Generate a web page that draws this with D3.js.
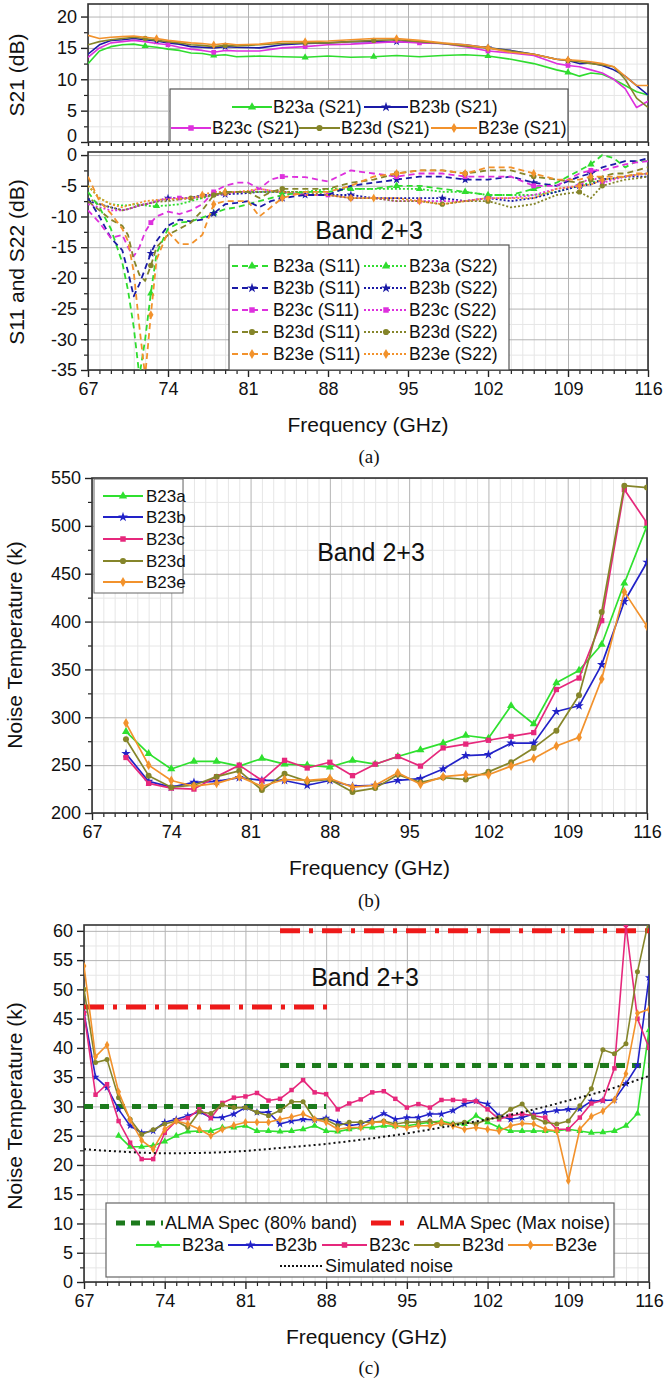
<!DOCTYPE html>
<html><head><meta charset="utf-8">
<script src="https://cdn.jsdelivr.net/npm/d3@7/dist/d3.min.js"></script>
<style>body{margin:0;background:#fff}svg{display:block}text{font-family:"Liberation Sans",Arial,sans-serif;fill:#111}</style>
</head><body><svg id="c" width="665" height="1378"></svg>
<script>
// ---------------- DATA ----------------
const xTicks=[67,74,81,88,95,102,109,116];
const series=["B23a","B23b","B23c","B23d","B23e"];

// (a) S21
const s21Freq=[67,68,69,70,71,72,73,74,75,76,77,78,79,80,82,84,86,88,90,92,94,96,98,100,102,104,106,108,109,110,111,112,113,114,115,116];
const s21_B23a=[12.5,14.5,15.2,15.5,15.6,15.3,15.1,14.8,14.6,14.2,14.1,13.8,13.9,13.6,13.7,13.6,13.5,13.7,13.5,13.6,13.8,13.6,13.8,13.9,13.7,13.2,12.5,11.5,11.1,10.5,11,10.8,10,9,8,7.5];
const s21_B23b=[14,15.5,16.2,16.3,16.5,16.3,16.1,15.8,15.6,15.2,15.1,15,15.2,15.1,15,15.5,15.7,15.8,16,16,16,15.9,15.7,15.5,15,14.6,14,13.2,13,12.5,12.6,12.2,11.5,10.5,9,7.5];
const s21_B23c=[13.5,15,15.8,16,16.2,16,15.7,15.5,15.1,14.8,14.6,14.3,14.6,14.5,14.5,15,15.2,15.5,15.6,15.8,16,15.8,15.7,15.2,14.5,14.2,13.8,12.5,12.2,12,11.5,11,10,8.5,5.5,6.5];
const s21_B23d=[15.5,16,16.3,16.5,16.7,16.5,16.2,16,15.8,15.5,15.4,15.2,15.4,15.3,15.5,15.7,15.8,15.8,16,16.2,16.3,16,15.7,15.3,15,14.5,14,13.2,13,12.8,12.5,12.3,12,10,7,5.5];
const s21_B23e=[17,16.5,16.7,16.8,16.9,16.7,16.5,16.2,16,15.8,15.7,15.5,15.7,15.5,15.6,16,16,16.1,16.3,16.5,16.5,16.2,15.8,15.5,15,14.3,14,13.2,13.1,13,12.8,12.5,12,10.5,9,9];

// (a) S11 / S22
const sFreq=[67,68,69,70,70.5,71,71.5,72,72.5,73,74,75,76,77,78,79,80,81,82,83,84,86,88,90,92,94,96,98,100,102,104,106,108,110,111,112,113,114,115,116];
const s11_B23a=[-6,-8.5,-12,-17.5,-22,-28,-36,-30,-22.5,-16,-12,-11,-10.8,-10.2,-9.5,-8.8,-8.5,-8,-7.5,-7,-6.5,-6,-6,-5.5,-5.5,-5,-5,-5.5,-6,-6.5,-6.5,-5.5,-4.5,-2.5,-1.5,0,-0.5,-2,-1,-1];
const s11_B23b=[-7,-10,-13.5,-15.5,-19,-23,-21,-18.5,-16,-14,-11.5,-10.5,-10.8,-10.5,-9.5,-8,-7.8,-7.5,-8.5,-7.5,-7,-6.5,-6.5,-5,-4.5,-4,-3.5,-3.5,-4,-4,-3.5,-4.5,-5,-3.5,-3,-2,-1.5,-1,-1,-0.5];
const s11_B23c=[-9,-11,-13.5,-13,-15,-16.5,-15,-12.5,-11,-10,-9.2,-9.6,-9,-8,-6,-5,-4.5,-4.5,-5.5,-4,-3.5,-3.6,-4.3,-2.5,-3,-3.5,-3,-3,-3.5,-3.5,-3.5,-5,-5,-3,-2.5,-2.5,-2,-1.5,-1.2,-1];
const s11_B23d=[-7.5,-9,-10.5,-11.5,-13,-17,-19.5,-20.5,-18,-15,-13,-12,-11,-9,-6.5,-6,-6,-6,-7,-6,-5.5,-5.5,-5.5,-4.5,-4,-3,-2.5,-2.5,-3,-2.5,-2.5,-3.5,-4,-4.5,-4,-3.5,-3,-3,-2.5,-2];
const s11_B23e=[-3.5,-7.5,-9.5,-12,-14,-19,-28,-36,-26,-17,-12.5,-14.5,-14.5,-13,-8,-7.5,-7.5,-7.5,-10,-8.5,-7,-6,-6,-5,-3.5,-3,-2.5,-2.5,-3,-2,-2,-3,-4,-4,-3.5,-3.5,-3.5,-3.5,-3,-3];
const s22_B23a=[-5,-7,-8,-8.2,-8.2,-8,-8.1,-8.2,-8.3,-8.3,-8.2,-8,-7.5,-7,-6.5,-6,-6,-6,-6,-6,-6,-6,-5.5,-5.5,-5.5,-5.5,-5.5,-6,-6,-6.5,-6.5,-6.5,-6,-5,-4.5,-4,-3.8,-3.5,-3.2,-3];
const s22_B23b=[-7.5,-8,-8.5,-9,-8.8,-8.5,-8.2,-8,-7.8,-7.5,-7,-7,-7,-6.5,-6.5,-6.4,-6.3,-6.2,-6,-6,-6,-6.5,-6.5,-6.5,-7,-7,-7,-7,-7.5,-7,-7.5,-7,-6,-5,-4.8,-4,-3.8,-3.5,-3.5,-3.5];
const s22_B23c=[-8,-8.5,-9,-9,-8.8,-8.5,-8.2,-8,-7.8,-7.5,-7,-7,-7,-6.8,-6.5,-6.3,-6,-6,-5.5,-5.8,-6,-6.5,-6.5,-7,-7,-7.5,-7.5,-7.5,-7.5,-7,-7,-6.5,-5.5,-5,-3.5,-4.5,-4,-3.5,-3.2,-3];
const s22_B23d=[-7,-8,-8.5,-9,-8.8,-8.5,-8.2,-8,-7.8,-7.6,-7.5,-7.2,-7,-6.8,-6.5,-6.2,-6,-6,-6,-6,-6,-6,-6.5,-7,-7,-7.5,-7.5,-8,-7.5,-7.5,-8.5,-8,-6.5,-6,-7,-5,-4.5,-4,-3.8,-3.5];
const s22_B23e=[-5,-7,-8,-8.5,-8.2,-8,-7.8,-7.5,-7.4,-7.3,-7.2,-7.1,-7,-6.5,-6,-6,-6,-5.8,-5.5,-5.8,-6,-6.5,-6.5,-7,-7,-7,-7.5,-8,-7.5,-7,-7,-7,-5.5,-5,-4.8,-4,-3.8,-3.5,-3.2,-3];

// (b) noise temperature (K)
const ntFreq=[70,72,74,76,78,80,82,84,86,88,90,92,94,96,98,100,102,104,106,108,110,112,114,116];
const nt_B23a=[285,262,246,254,254,249,257,251,250,248,255,251,259,266,273,281,278,312,293,336,349,376,440,500];
const nt_B23b=[262,233,227,232,233,237,234,234,229,234,228,229,234,236,246,260,261,273,273,306,312,355,421,462];
const nt_B23c=[258,231,226,225,238,250,234,255,247,253,239,251,259,249,268,272,276,280,284,329,341,401,538,503];
const nt_B23d=[277,239,227,229,238,244,224,241,233,235,222,226,240,232,237,235,243,253,268,286,323,410,542,540];
const nt_B23e=[294,250,234,228,231,238,228,235,234,236,227,229,242,230,238,240,240,249,257,270,279,340,431,395];

// (c) noise temperature (K)
const tFreq=d3.range(67,117);
const t_B23a=[null,null,null,25,23.1,23.1,23.3,24,25,25.7,25.8,25.8,26.4,26.4,26.7,25.8,25.8,25.7,25.8,26.1,26.7,25.8,25.7,26.1,26.4,26.4,26.7,26.6,26.7,27,27.3,27.5,27,27,28.4,27.3,26.4,25.8,25.8,25.8,25.8,25.8,26.1,25.8,25.5,25.6,25.8,26.7,28.8,43];
const t_B23b=[46,35,33.2,29.5,26.7,25.5,25.8,27.3,27.8,28.4,29.1,28.1,28.1,28.7,29.8,29,29,27,27.5,27.8,27.7,28,27.3,26.7,27,27.8,28.8,27.8,28.1,28.1,28.7,28.7,29.3,30.4,30.9,30.4,28.4,27.8,28.1,28.7,29,29.3,29.5,29.6,30.9,31,31.1,33.9,37,52];
const t_B23c=[46,32,33.8,27.5,23.8,21,21,25.5,27.5,28,29.5,28,30.6,31.5,31.7,32.3,31,31.3,32.8,34.5,32.4,32.1,29.5,30.5,31.2,32.4,32.6,31.3,29.8,30.4,29.8,31.1,31.1,31,30.9,29.5,27.8,28.4,28.7,28.4,28.1,26.1,26.1,28.1,30.5,31,36.5,61,45,40];
const t_B23d=[50,37.5,38,31.5,27.8,25.2,26,27,27.5,26.4,29.1,28.8,30.3,29.8,29.8,29,28.4,29.3,30.8,30.8,27.8,27.7,26.7,27.3,27.3,27.3,27.5,27,27.3,27.3,27.5,27,27,27.3,27,27.8,28.1,29.5,30.4,28.1,27.3,27,27.5,30.1,33,39.7,39,40.7,53,62];
const t_B23e=[54,38.5,40.5,32.5,27.7,24.2,22.7,26.1,27.5,27,26.1,25,26.1,26.8,27.3,27.3,27.3,27.8,28.2,28.7,27.8,27.3,26.1,26.4,26.4,27.3,27.3,26.7,26.4,26.7,26.7,27.3,26.7,26.1,26.4,26.1,25.8,26.7,27.1,27,26.1,25.8,17.3,26.1,28.3,29.2,31.1,35.6,45.9,46.6];
const simFreq=[67,70,74,78,81,84,88,91,95,98,102,105,109,112,116];
const simNoise=[22.7,22.3,22.0,22.1,22.4,22.9,23.6,24.3,25.4,26.4,27.8,29.0,31.0,32.6,35.2];
const spec80Start=[67,84], spec80End=[88,116], spec80Val=[30,37];
const specMaxStart=[67,84], specMaxEnd=[88.5,116], specMaxVal=[47,60];

// ---------------- STYLE ----------------
const colA=["#2fdc2f","#1a1aa6","#dd30dd","#85852a","#f2922c"];
const colN=["#2fe02f","#2222c8","#e6287c","#85852a","#f2922c"];
const syms=[d3.symbolTriangle,d3.symbolStar,d3.symbolSquare,d3.symbolCircle,d3.symbolDiamond];
const svg=d3.select("#c");

function panel(cfg){
  const x=d3.scaleLinear().domain([67,116]).range([cfg.left,cfg.right]);
  const y=d3.scaleLinear().domain(cfg.yd).range([cfg.bottom,cfg.top]);
  const g=svg.append("g");
  const w=cfg.right-cfg.left,h=cfg.bottom-cfg.top;
  svg.append("clipPath").attr("id","clip"+cfg.id).append("rect")
    .attr("x",cfg.left).attr("y",cfg.top).attr("width",w).attr("height",h);
  const xMinor=d3.range(67,117).filter(v=>!xTicks.includes(v));
  const yMinor=cfg.yMinor;
  g.append("g").attr("transform",`translate(0,${cfg.bottom})`)
    .call(d3.axisBottom(x).tickValues(xMinor).tickSize(-h).tickFormat(""))
    .call(a=>{a.select(".domain").remove();a.selectAll("line").attr("stroke","#e6e6e6");});
  g.append("g").attr("transform",`translate(${cfg.left},0)`)
    .call(d3.axisLeft(y).tickValues(yMinor).tickSize(-w).tickFormat(""))
    .call(a=>{a.select(".domain").remove();a.selectAll("line").attr("stroke","#e6e6e6");});
  g.append("g").attr("transform",`translate(0,${cfg.bottom})`)
    .call(d3.axisBottom(x).tickValues(xTicks).tickSize(-h).tickFormat(""))
    .call(a=>{a.select(".domain").remove();a.selectAll("line").attr("stroke","#b4b4b4");});
  g.append("g").attr("transform",`translate(${cfg.left},0)`)
    .call(d3.axisLeft(y).tickValues(cfg.yTicks).tickSize(-w).tickFormat(""))
    .call(a=>{a.select(".domain").remove();a.selectAll("line").attr("stroke","#b4b4b4");});
  g.append("g").attr("transform",`translate(0,${cfg.bottom})`)
    .call(d3.axisBottom(x).tickValues(xMinor).tickSize(4).tickFormat(""))
    .call(a=>{a.select(".domain").remove();a.selectAll("line").attr("stroke","#222").attr("stroke-width",1.2);});
  g.append("g").attr("transform",`translate(${cfg.left},0)`)
    .call(d3.axisLeft(y).tickValues(yMinor).tickSize(4).tickFormat(""))
    .call(a=>{a.select(".domain").remove();a.selectAll("line").attr("stroke","#222").attr("stroke-width",1.2);});
  const yax=g.append("g").attr("transform",`translate(${cfg.left},0)`)
    .call(d3.axisLeft(y).tickValues(cfg.yTicks).tickSize(7).tickPadding(4).tickFormat(d=>String(d)))
    .call(a=>{a.select(".domain").remove();a.selectAll("line").attr("stroke","#222").attr("stroke-width",1.4);
      a.selectAll("text").attr("font-size",18).attr("fill","#111").attr("font-family",'"Liberation Sans",Arial,sans-serif');});
  if(cfg.zeroShift) yax.selectAll(".tick").filter(d=>d===cfg.zeroShift[0]).select("text").attr("dy",cfg.zeroShift[1]);
  g.append("g").attr("transform",`translate(0,${cfg.bottom})`)
    .call(d3.axisBottom(x).tickValues(xTicks).tickSize(cfg.xLabels?7:4).tickPadding(5).tickFormat(cfg.xLabels?(d=>String(d)):""))
    .call(a=>{a.select(".domain").remove();a.selectAll("line").attr("stroke","#222").attr("stroke-width",1.4);
      a.selectAll("text").attr("font-size",18).attr("fill","#111").attr("font-family",'"Liberation Sans",Arial,sans-serif');});
  g.append("rect").attr("x",cfg.left).attr("y",cfg.top).attr("width",w).attr("height",h)
    .attr("fill","none").attr("stroke","#333").attr("stroke-width",1.6);
  svg.append("text").attr("transform",`translate(${cfg.ytx},${cfg.yty}) rotate(-90)`)
    .attr("text-anchor","middle").attr("font-size",21).text(cfg.ytitle);
  if(cfg.xLabels){
    svg.append("text").attr("x",(cfg.left+cfg.right)/2).attr("y",cfg.bottom+62).attr("text-anchor","middle")
      .attr("font-size",21).text("Frequency (GHz)");
  }
  const plot=svg.append("g").attr("clip-path",`url(#clip${cfg.id})`);
  return {x,y,plot,g};
}

function drawSeries(p,fx,vals,color,opt){
  const pts=fx.map((f,i)=>[f,vals[i]]).filter(d=>d[1]!=null);
  const line=d3.line().x(d=>p.x(d[0])).y(d=>p.y(d[1])).curve(opt.curve||d3.curveLinear);
  p.plot.append("path").datum(pts).attr("d",line).attr("fill","none").attr("stroke",color)
    .attr("stroke-width",opt.sw||1.6).attr("stroke-dasharray",opt.dash||null).attr("stroke-linejoin","round");
  const mk=opt.markIdx?pts.filter((d,i)=>opt.markIdx.includes(i)):pts;
  if(opt.sym){
    p.plot.selectAll(null).data(mk).join("path")
      .attr("d",d3.symbol().type(opt.sym).size(opt.msize||24))
      .attr("transform",d=>`translate(${p.x(d[0])},${p.y(d[1])})`).attr("fill",color);
  }
}

function legendItem(g,x0,x1,yy,color,sym,dash,label,tx,opt){
  opt=opt||{};
  g.append("line").attr("x1",x0).attr("x2",x1).attr("y1",yy).attr("y2",yy).attr("stroke",color)
    .attr("stroke-width",opt.sw||1.8).attr("stroke-dasharray",dash||null);
  if(sym) g.append("path").attr("d",d3.symbol().type(sym).size(opt.msize||30)())
    .attr("transform",`translate(${(x0+x1)/2},${yy})`).attr("fill",color);
  g.append("text").attr("x",tx).attr("y",yy).attr("dy","0.35em").attr("font-size",opt.fs||17.5).text(label);
}

// ---------------- PANEL (a) top : S21 ----------------
const pA1=panel({id:"a1",left:88,right:648,top:4,bottom:142,yd:[0,22],yTicks:[0,5,10,15,20],
  yMinor:[2.5,7.5,12.5,17.5],xLabels:false,ytitle:"S21 (dB)",ytx:24,yty:75,zeroShift:[0,"-0.05em"]});
const s21=[s21_B23a,s21_B23b,s21_B23c,s21_B23d,s21_B23e];
s21.forEach((v,i)=>drawSeries(pA1,s21Freq,v,colA[i],{sym:syms[i],markIdx:[5+i%3,11+i%2,16,19+i%3,24,28],sw:1.6,msize:22}));
{
  const lg=svg.append("g");
  lg.append("rect").attr("x",170).attr("y",89).attr("width",398).attr("height",53).attr("fill","#fff").attr("stroke","#555").attr("stroke-width",1.2);
  legendItem(lg,232,272,107,colA[0],syms[0],null,"B23a (S21)",273);
  legendItem(lg,364,408,107,colA[1],syms[1],null,"B23b (S21)",409);
  legendItem(lg,171,211,128,colA[2],syms[2],null,"B23c (S21)",212);
  legendItem(lg,299,340,128,colA[3],syms[3],null,"B23d (S21)",341);
  legendItem(lg,431,477,128,colA[4],syms[4],null,"B23e (S21)",478);
}

// ---------------- PANEL (a) bottom : S11/S22 ----------------
const pA2=panel({id:"a2",left:88,right:648,top:152,bottom:370,yd:[-35,0.5],yTicks:d3.range(-35,1,5),
  yMinor:d3.range(-32.5,0,5),xLabels:true,ytitle:"S11 and S22 (dB)",ytx:24,yty:262});
const s11=[s11_B23a,s11_B23b,s11_B23c,s11_B23d,s11_B23e];
const s22=[s22_B23a,s22_B23b,s22_B23c,s22_B23d,s22_B23e];
s22.forEach((v,i)=>drawSeries(pA2,sFreq,v,colA[i],{sym:syms[i],dash:"2,2",markIdx:[9+i,15,20+i,23,26+i%2,29,33,35],sw:1.8,msize:22}));
s11.forEach((v,i)=>drawSeries(pA2,sFreq,v,colA[i],{sym:syms[i],dash:"6,4",markIdx:[8,14,20,25,28,31,34],sw:1.8,msize:24}));
svg.append("text").attr("x",369).attr("y",230).attr("dy","0.35em").attr("text-anchor","middle").attr("font-size",25).text("Band 2+3");
{
  const lg=svg.append("g");
  lg.append("rect").attr("x",229).attr("y",245).attr("width",280).attr("height",125).attr("fill","#fff").attr("stroke","#555").attr("stroke-width",1.2);
  const rows=[266,288,310,332,354];
  series.forEach((s,i)=>{
    legendItem(lg,232,272,rows[i],colA[i],syms[i],"6,4",s+" (S11)",273);
    legendItem(lg,364,408,rows[i],colA[i],syms[i],"2,2",s+" (S22)",409);
  });
}
svg.append("text").attr("x",369).attr("y",456).attr("dy","0.35em").attr("text-anchor","middle")
  .attr("font-size",19).style("font-family",'"Liberation Serif","Times New Roman",serif').text("(a)");

// ---------------- PANEL (b) ----------------
const pB=panel({id:"b",left:92,right:647,top:478,bottom:813,yd:[200,550],yTicks:d3.range(200,551,50),
  yMinor:d3.range(225,550,50),xLabels:true,ytitle:"Noise Temperature (k)",ytx:22,yty:645});
const nt=[nt_B23a,nt_B23b,nt_B23c,nt_B23d,nt_B23e];
nt.forEach((v,i)=>drawSeries(pB,ntFreq,v,colN[i],{sym:syms[i],sw:1.7,msize:28}));
svg.append("text").attr("x",371).attr("y",552).attr("dy","0.35em").attr("text-anchor","middle").attr("font-size",25).text("Band 2+3");
{
  const lg=svg.append("g");
  lg.append("rect").attr("x",94).attr("y",479).attr("width",89).attr("height",114).attr("fill","#fff").attr("stroke","#666").attr("stroke-width",1);
  const rows=[496,517,539,561,582];
  series.forEach((s,i)=>legendItem(lg,103,143,rows[i],colN[i],syms[i],null,s,146,{fs:17}));
}
svg.append("text").attr("x",369).attr("y",900).attr("dy","0.35em").attr("text-anchor","middle")
  .attr("font-size",19).style("font-family",'"Liberation Serif","Times New Roman",serif').text("(b)");

// ---------------- PANEL (c) ----------------
const pC=panel({id:"c",left:84,right:649,top:925,bottom:1282,yd:[0,61],yTicks:d3.range(0,61,5),
  yMinor:d3.range(2.5,60,5),xLabels:true,ytitle:"Noise Temperature (k)",ytx:22,yty:1106});
spec80Val.forEach((v,i)=>pC.plot.append("line").attr("x1",pC.x(spec80Start[i])).attr("x2",pC.x(spec80End[i]))
  .attr("y1",pC.y(v)).attr("y2",pC.y(v)).attr("stroke","#1c7a1c").attr("stroke-width",5).attr("stroke-dasharray","9,7"));
specMaxVal.forEach((v,i)=>pC.plot.append("line").attr("x1",pC.x(specMaxStart[i])).attr("x2",pC.x(specMaxEnd[i]))
  .attr("y1",pC.y(v)).attr("y2",pC.y(v)).attr("stroke","#ee1a1a").attr("stroke-width",5).attr("stroke-dasharray","20,9,4,9"));
const tt=[t_B23a,t_B23b,t_B23c,t_B23d,t_B23e];
tt.forEach((v,i)=>drawSeries(pC,tFreq,v,colN[i],{sym:syms[i],sw:1.6,msize:20}));
drawSeries(pC,simFreq,simNoise,"#111",{dash:"2,3",sw:2,curve:d3.curveMonotoneX});
svg.append("text").attr("x",365).attr("y",977).attr("dy","0.35em").attr("text-anchor","middle").attr("font-size",25).text("Band 2+3");
{
  const lg=svg.append("g");
  lg.append("rect").attr("x",106).attr("y",1203).attr("width",508).attr("height",74).attr("fill","#fff").attr("stroke","#666").attr("stroke-width",1.2);
  legendItem(lg,116,163,1223,"#1c7a1c",null,"9,6","ALMA Spec (80% band)",165,{sw:5,fs:18});
  legendItem(lg,371,413,1223,"#ee1a1a",null,"20,9,4,9","ALMA Spec (Max noise)",417,{sw:5,fs:18});
  const xs=[[136,180,182],[228,273,275],[322,367,369],[414,460,462],[508,553,555]];
  series.forEach((s,i)=>legendItem(lg,xs[i][0],xs[i][1],1245,colN[i],syms[i],null,s,xs[i][2],{fs:18}));
  legendItem(lg,280,322,1266,"#111",null,"2,2","Simulated noise",325,{sw:2,fs:18});
}
svg.append("text").attr("x",369).attr("y",1367).attr("dy","0.35em").attr("text-anchor","middle")
  .attr("font-size",19).style("font-family",'"Liberation Serif","Times New Roman",serif').text("(c)");
</script></body></html>
